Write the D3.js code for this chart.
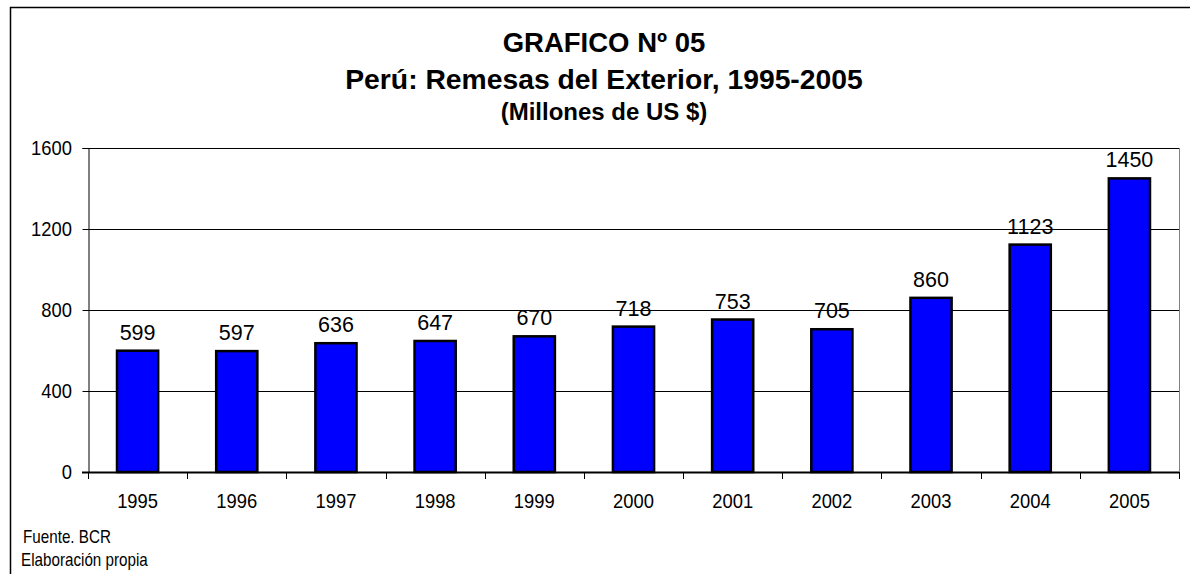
<!DOCTYPE html>
<html>
<head>
<meta charset="utf-8">
<script src="https://cdn.jsdelivr.net/npm/d3@7"></script>
<style>
  body { margin: 0; background: #fff; }
  svg { display: block; }
</style>
</head>
<body>
<svg width="1190" height="574"></svg>
<script>
// datos del grafico
const years = ["1995","1996","1997","1998","1999","2000","2001","2002","2003","2004","2005"];
const remesas = [599, 597, 636, 647, 670, 718, 753, 705, 860, 1123, 1450];
const yTicks = [0, 400, 800, 1200, 1600];
const titleLines = ["GRAFICO Nº 05", "Perú: Remesas del Exterior, 1995-2005", "(Millones de US $)"];
const notes = ["Fuente. BCR", "Elaboración propia"];

const svg = d3.select("svg"),
	width = +svg.attr("width"),
	height = +svg.attr("height");

const margin = {left: 88, right: 1179, top: 148, bottom: 472};
const sans = "'Liberation Sans', Arial, sans-serif";

// texto "estrecho": se escala en horizontal para imitar Arial Narrow
function narrow(sel, fx, fy, sx) {
	return sel.attr("transform", (d, i) => "translate(" + fx(d, i) + "," + fy(d, i) + ") scale(" + sx + ",1)")
		.style("font-family", sans);
}

// marco exterior
svg.append("path")
	.attr("d", "M10.5," + height + " V7.5 H" + width)
	.attr("fill", "none")
	.attr("stroke", "#000")
	.attr("stroke-width", 1.5);

// titulo
const titleY = [52, 89, 120],
	titleSize = [27.5, 28.3, 24];
svg.selectAll("text.title")
	.data(titleLines)
	.enter().append("text")
	.attr("class", "title")
	.attr("x", 604)
	.attr("y", (d, i) => titleY[i])
	.attr("text-anchor", "middle")
	.style("font-family", sans)
	.style("font-weight", "bold")
	.style("font-size", (d, i) => titleSize[i] + "px")
	.text(d => d);

// escalas
const x = d3.scaleBand()
	.domain(years)
	.range([margin.left, margin.right])
	.paddingInner(0.585)
	.paddingOuter(0.2925);

const y = d3.scaleLinear()
	.domain([0, 1600])
	.range([margin.bottom, margin.top]);

// lineas de rejilla
svg.append("g")
	.selectAll("line")
	.data(yTicks.slice(1))
	.enter().append("line")
	.attr("x1", margin.left)
	.attr("x2", margin.right)
	.attr("y1", d => Math.round(y(d)) + 0.5)
	.attr("y2", d => Math.round(y(d)) + 0.5)
	.attr("stroke", "#000")
	.attr("stroke-width", 1);

// borde derecho del area
svg.append("line")
	.attr("x1", margin.right + 0.5).attr("x2", margin.right + 0.5)
	.attr("y1", margin.top).attr("y2", margin.bottom + 7)
	.attr("stroke", "#808080");

// eje y
const yAxis = svg.append("g")
	.attr("transform", "translate(" + (margin.left + 0.5) + ",0)")
	.call(d3.axisLeft(y).tickValues(yTicks).tickSize(6).tickFormat(""));
yAxis.selectAll("line, path").attr("stroke", "#000");

narrow(svg.append("g")
	.selectAll("text")
	.data(yTicks)
	.enter().append("text"),
	d => 72, d => y(d) + 7, 0.92)
	.attr("text-anchor", "end")
	.style("font-size", "20px")
	.text(d => d);

// barras
svg.append("g")
	.selectAll("rect")
	.data(remesas)
	.enter().append("rect")
	.attr("x", (d, i) => x(years[i]))
	.attr("y", d => y(d))
	.attr("width", x.bandwidth())
	.attr("height", d => y(0) - y(d))
	.attr("fill", "#0000ff")
	.attr("stroke", "#000")
	.attr("stroke-width", 2.5);

// etiquetas de valores
svg.append("g")
	.selectAll("text")
	.data(remesas)
	.enter().append("text")
	.attr("x", (d, i) => x(years[i]) + x.bandwidth() / 2)
	.attr("y", d => y(d) - 11)
	.attr("text-anchor", "middle")
	.style("font-family", sans)
	.style("font-size", "21.5px")
	.text(d => d);

// eje x
const step = (margin.right - margin.left) / years.length;
svg.append("line")
	.attr("x1", margin.left - 6).attr("x2", margin.right)
	.attr("y1", margin.bottom + 0.5).attr("y2", margin.bottom + 0.5)
	.attr("stroke", "#000")
	.attr("stroke-width", 2);

svg.append("g")
	.selectAll("line")
	.data(d3.range(years.length + 1))
	.enter().append("line")
	.attr("x1", i => Math.round(margin.left + i * step) + 0.5)
	.attr("x2", i => Math.round(margin.left + i * step) + 0.5)
	.attr("y1", margin.bottom)
	.attr("y2", margin.bottom + 7)
	.attr("stroke", "#000");

narrow(svg.append("g")
	.selectAll("text")
	.data(years)
	.enter().append("text"),
	d => x(d) + x.bandwidth() / 2, d => 508, 0.92)
	.attr("text-anchor", "middle")
	.style("font-size", "20px")
	.text(d => d);

// notas al pie
narrow(svg.selectAll("text.note")
	.data(notes)
	.enter().append("text")
	.attr("class", "note"),
	(d, i) => i === 0 ? 23 : 21, (d, i) => i === 0 ? 543 : 566, 0.845)
	.style("font-size", "18px")
	.text(d => d);
</script>
</body>
</html>
